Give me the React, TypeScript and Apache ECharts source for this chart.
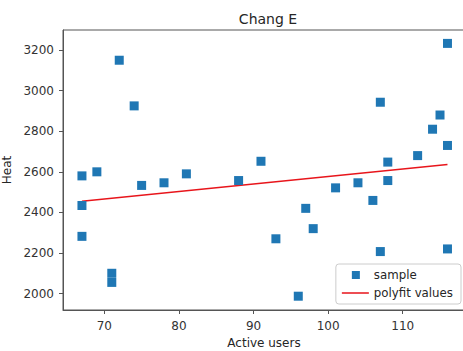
import React, { useEffect, useRef } from "react";
import * as echarts from "echarts";

const titleText = "Chang E";
const xName = "Active users";
const yName = "Heat";
const xTicks = [70, 80, 90, 100, 110];
const yTicks = [2000, 2200, 2400, 2600, 2800, 3000, 3200];
const sampleX = [116, 72, 74, 107, 115, 114, 116, 112, 108, 91, 69, 67, 67, 67, 71, 71, 75, 78, 81, 88, 101, 104, 108, 106, 97, 98, 93, 107, 116, 96];
const sampleY = [3233, 3150, 2925, 2943, 2880, 2810, 2730, 2680, 2648, 2652, 2600, 2580, 2434, 2282, 2100, 2055, 2533, 2546, 2590, 2557, 2521, 2546, 2557, 2459, 2420, 2320, 2270, 2207, 2220, 1987];
const fitX = [67, 116];
const fitY = [2455, 2636];

export default function App() {
  const ref = useRef<HTMLDivElement>(null);
  useEffect(() => {
    if (!ref.current) return;
    const chart = echarts.init(ref.current, null, { renderer: "svg" });
    const font = "DejaVu Sans";
    chart.setOption({
      animation: false,
      backgroundColor: "#fff",
      title: {
        text: titleText,
        left: 263,
        top: 7,
        textAlign: "center",
        textStyle: { fontFamily: font, fontSize: 14, fontWeight: "normal", color: "#262626" },
      },
      grid: {
        left: 63,
        top: 30,
        bottom: 41,
        right: -2,
        show: true,
        borderColor: "#555",
        borderWidth: 1,
        containLabel: false,
        outerBoundsMode: "none",
      },
      legend: {
        orient: "vertical",
        right: 2,
        bottom: 47,
        padding: [5, 8, 5, 6],
        itemGap: 6,
        itemWidth: 27,
        itemHeight: 10,
        borderColor: "#ccc",
        borderWidth: 1,
        borderRadius: 3,
        backgroundColor: "rgba(255,255,255,0.8)",
        textStyle: { fontFamily: font, fontSize: 11.8, color: "#262626" },
        data: [
          { name: "sample", icon: "path://M0,0 L0,0.001 Z M10,1 L18,1 L18,9 L10,9 Z M27,10 L27,9.999 Z" },
          { name: "polyfit values", icon: "path://M0,0 L0,0.001 Z M0,4.2 L27,4.2 L27,5.8 L0,5.8 Z M27,10 L27,9.999 Z" },
        ],
      },
      xAxis: {
        type: "value",
        min: 64.46,
        max: 118.35,
        name: xName,
        nameLocation: "middle",
        nameGap: 25,
        nameTextStyle: { fontFamily: font, fontSize: 12, color: "#262626" },
        splitLine: { show: false },
        axisLine: { show: true, lineStyle: { color: "#555" } },
        axisTick: { show: true, length: 4, lineStyle: { color: "#555" }, customValues: xTicks },
        axisLabel: {
          fontFamily: font,
          fontSize: 12,
          color: "#333",
          margin: 10,
          customValues: xTicks,
          formatter: (v: number) => String(v),
        },
      },
      yAxis: {
        type: "value",
        min: 1919,
        max: 3299,
        name: yName,
        nameLocation: "middle",
        nameGap: 36,
        nameTextStyle: { fontFamily: font, fontSize: 12, color: "#262626" },
        splitLine: { show: false },
        axisLine: { show: true, lineStyle: { color: "#555" } },
        axisTick: { show: true, length: 4, lineStyle: { color: "#555" }, customValues: yTicks },
        axisLabel: {
          fontFamily: font,
          fontSize: 12,
          color: "#333",
          margin: 9,
          customValues: yTicks,
          formatter: (v: number) => String(v),
        },
      },
      series: [
        {
          name: "sample",
          type: "scatter",
          symbol: "rect",
          symbolSize: 9,
          itemStyle: { color: "#1f77b4", opacity: 1 },
          data: sampleX.map((x, i) => [x, sampleY[i]]),
          z: 3,
        },
        {
          name: "polyfit values",
          type: "line",
          symbol: "none",
          showSymbol: false,
          lineStyle: { color: "#e8151b", width: 1.5 },
          itemStyle: { color: "#e8151b" },
          data: fitX.map((x, i) => [x, fitY[i]]),
          z: 2,
        },
      ],
    });
    return () => chart.dispose();
  }, []);
  return <div ref={ref} style={{ width: 463, height: 351, position: "absolute", left: 0, top: 0 }} />;
}
